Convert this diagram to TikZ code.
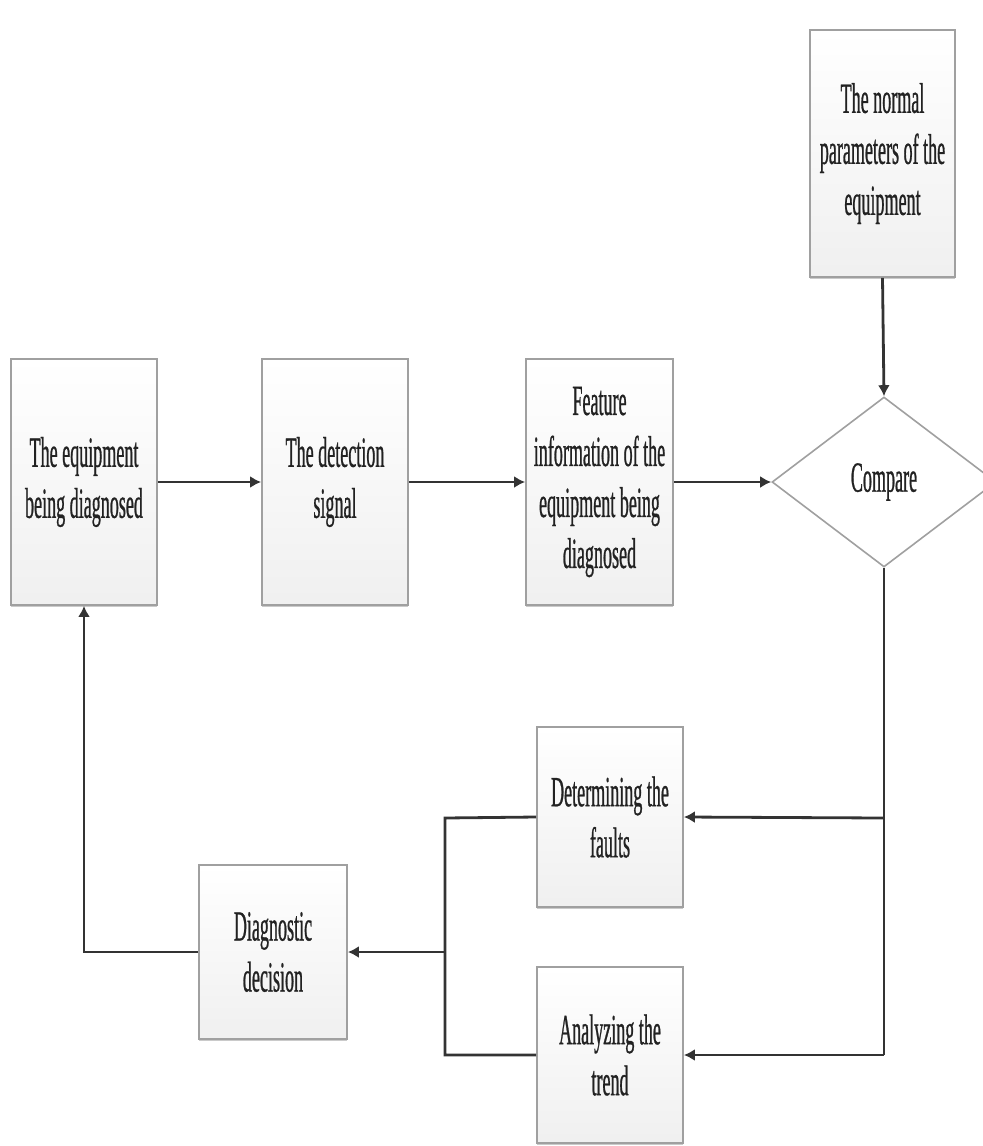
\documentclass[tikz,border=0pt]{standalone}
\usepackage{fontspec}
\newfontfamily\condserif[FakeStretch=0.42,FakeBold=0.6]{Liberation Serif}
\usetikzlibrary{arrows.meta,shapes.geometric,shadows}
\definecolor{linec}{HTML}{333333}
\definecolor{boxline}{HTML}{A0A0A0}
\definecolor{txtc}{HTML}{222222}
\tikzset{
  pbox/.style={rectangle, draw=boxline, line width=0.9pt, top color=white, bottom color=black!6,
    drop shadow={shadow xshift=0pt, shadow yshift=-1.2pt, opacity=0.35, fill=black!60},
    align=center, inner sep=0pt, text=txtc,
    font=\condserif\fontsize{21.5pt}{25.5pt}\selectfont},
  dbox/.style={diamond, draw=boxline, line width=0.8pt, fill=white, inner sep=0pt, text=txtc,
    font=\condserif\fontsize{21.5pt}{25.5pt}\selectfont},
  conn/.style={draw=linec, line width=1.4pt},
  arr/.style={conn, -{Latex[length=5.5pt,width=6pt]}},
}
\begin{document}
\begin{tikzpicture}[x=0.5pt,y=-0.5pt]
\useasboundingbox (0,0) rectangle (983,1146);
\node[pbox, minimum width=73pt, minimum height=123pt] (eq) at (84,482) {The equipment\\being diagnosed};
\node[pbox, minimum width=73pt, minimum height=123pt] (det) at (335,482) {The detection\\signal};
\node[pbox, minimum width=73.5pt, minimum height=123pt] (feat) at (599.5,482) {Feature\\information of the\\equipment being\\diagnosed};
\node[pbox, minimum width=72.5pt, minimum height=123.5pt] (norm) at (882.5,153.5) {The normal\\parameters of the\\equipment};
\node[dbox, minimum width=112pt, minimum height=85pt] (cmp) at (884,482) {Compare};
\node[pbox, minimum width=73pt, minimum height=90pt] (faults) at (610,817) {Determining the\\faults};
\node[pbox, minimum width=73pt, minimum height=88pt] (trend) at (610,1055) {Analyzing the\\trend};
\node[pbox, minimum width=74pt, minimum height=87pt] (diag) at (273,952) {Diagnostic\\decision};

\coordinate (r1) at (884,818);
\coordinate (r2) at (884,1055);
\coordinate (l1) at (445,818);
\coordinate (l2) at (445,1055);
\coordinate (lm) at (445,952);

\draw[arr] (eq.east) -- (det.west);
\draw[arr] (det.east) -- (feat.west);
\draw[arr] (feat.east) -- (cmp.west);
\draw[arr] (norm.south) -- (cmp.north);
\draw[conn] (cmp.south) -- (r2);
\draw[arr] (r2) -- (trend.east);
\draw[arr] (r1) -- (faults.east);
\draw[conn] (faults.west) -- (l1) -- (l2) -- (trend.west);
\draw[arr] (lm) -- (diag.east);
\draw[arr] (diag.west) -| (eq.south);
\end{tikzpicture}
\end{document}
